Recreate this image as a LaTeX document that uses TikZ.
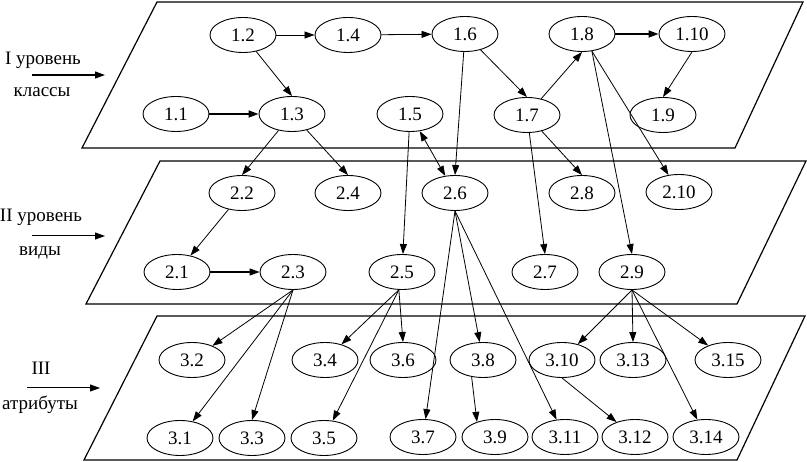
\documentclass[tikz,border=0pt]{standalone}
\usepackage{fontspec}
\setmainfont{Liberation Serif}
\usetikzlibrary{shapes.geometric,arrows.meta}
\begin{document}
\begin{tikzpicture}[x=1pt,y=-1pt,
  nd/.style={ellipse,draw,line width=0.9pt,fill=white,minimum width=66pt,minimum height=35pt,inner sep=0pt,font=\fontsize{19}{22}\selectfont},
  lbl/.style={font=\fontsize{19}{22}\selectfont,inner sep=0pt},
  arr/.style={line width=0.8pt,-{Triangle[length=10pt,width=7pt]}},
  arrb/.style={line width=0.8pt,{Triangle[length=10pt,width=7pt]}-{Triangle[length=10pt,width=7pt]}},
  bold/.style={line width=1.6pt},
  plane/.style={line width=1.2pt,line join=miter}]
\useasboundingbox (0,0) rectangle (807,462);
% planes
\draw[plane] (82,148) -- (735,148) -- (803,2) -- (157,2) -- cycle;
\draw[plane] (86,304) -- (737,304) -- (806,161) -- (160,161) -- cycle;
\draw[plane] (84,460) -- (737,460) -- (805,316) -- (157,316) -- cycle;
% left labels
\node[lbl] (t1) at (43,60) {I уровень};
\node[lbl] (t1b) at (42,92) {классы};
\coordinate (a1s) at (32,75); \coordinate (a1e) at (105,75);
\draw[arr,line width=1.2pt] (a1s) -- (a1e);
\node[lbl] (t2) at (41,217) {II уровень};
\node[lbl] (t2b) at (40,253) {виды};
\coordinate (a2s) at (32,236); \coordinate (a2e) at (105,236);
\draw[arr,line width=1pt] (a2s) -- (a2e);
\node[lbl] (t3) at (41,368) {III};
\node[lbl] (t3b) at (40,405) {атрибуты};
\coordinate (a3s) at (27,388); \coordinate (a3e) at (100,388);
\draw[arr,line width=1pt] (a3s) -- (a3e);
% level 1
\node[nd] (n12) at (243,35) {1.2};
\node[nd] (n14) at (348,35) {1.4};
\node[nd] (n16) at (465,34) {1.6};
\node[nd] (n18) at (582,34) {1.8};
\node[nd] (n110) at (692,34) {1.10};
\node[nd] (n11) at (176,114) {1.1};
\node[nd] (n13) at (292,114) {1.3};
\node[nd] (n15) at (410,114) {1.5};
\node[nd] (n17) at (527,115) {1.7};
\node[nd] (n19) at (663,115) {1.9};
% level 2
\node[nd] (n22) at (242,193) {2.2};
\node[nd] (n24) at (348,193) {2.4};
\node[nd] (n26) at (455,193) {2.6};
\node[nd] (n28) at (582,193) {2.8};
\node[nd] (n210) at (679,192) {2.10};
\node[nd] (n21) at (177,272) {2.1};
\node[nd] (n23) at (293,272) {2.3};
\node[nd] (n25) at (402,272) {2.5};
\node[nd] (n27) at (545,272) {2.7};
\node[nd] (n29) at (632,272) {2.9};
% level 3
\node[nd] (n32) at (192,360) {3.2};
\node[nd] (n34) at (325,360) {3.4};
\node[nd] (n36) at (403,360) {3.6};
\node[nd] (n38) at (483,360) {3.8};
\node[nd] (n310) at (562,360) {3.10};
\node[nd] (n313) at (633,360) {3.13};
\node[nd] (n315) at (728,360) {3.15};
\node[nd] (n31) at (180,438) {3.1};
\node[nd] (n33) at (252,438) {3.3};
\node[nd] (n35) at (324,438) {3.5};
\node[nd] (n37) at (423,437) {3.7};
\node[nd] (n39) at (495,437) {3.9};
\node[nd] (n311) at (565,437) {3.11};
\node[nd] (n312) at (635,437) {3.12};
\node[nd] (n314) at (706,437) {3.14};
% level 1 edges
\draw[arr] (n12) -- (n14);
\draw[arr] (n14) -- (n16);
\draw[arr,bold] (n11) -- (n13);
\draw[arr] (n12) -- (n13.north);
\draw[arr] (n16) -- (n17.north);
\draw[arr] (n17) -- (n18.south);
\draw[arr,bold] (n18) -- (n110);
\draw[arr] (n110.south) -- (n19.north);
% level 1 -> 2
\draw[arr] (n13) -- (n22.north);
\draw[arr] (n13) -- (n24.north);
\draw[arr] (n15) -- (n25);
\draw[arrb] (n15) -- (n26);
\draw[arr] (n16) -- (n26.north);
\draw[arr] (n17) -- (n27.north);
\draw[arr] (n17) -- (n28.north);
\draw[arr] (n18.-60) -- (n29.north);
\draw[arr] (n18.-60) -- (n210);
% level 2 edges
\draw[arr] (n22) -- (n21);
\draw[arr,line width=1.1pt] (n21) -- (n23);
% level 2 -> 3
\draw[arr] (n23.south) -- (n32);
\draw[arr] (n23.south) -- (n31);
\draw[arr] (n23.south) -- (n33.north);
\draw[arr] (n25.-100) -- (n34);
\draw[arr] (n25.-100) -- (n36.north);
\draw[arr] (n25.-100) -- (n35);
\draw[arr] (n26.south) -- (n37);
\draw[arr] (n26.south) -- (n38);
\draw[arr] (n26.south) -- (n311);
\draw[arr] (n29.south) -- (n310);
\draw[arr] (n29.south) -- (n313.north);
\draw[arr] (n29.south) -- (n315);
\draw[arr] (n29.south) -- (n314);
% level 3 edges
\draw[arr] (n38.-124) -- (n39.140);
\draw[arr] (n310.south) -- (n312);
\end{tikzpicture}
\end{document}
